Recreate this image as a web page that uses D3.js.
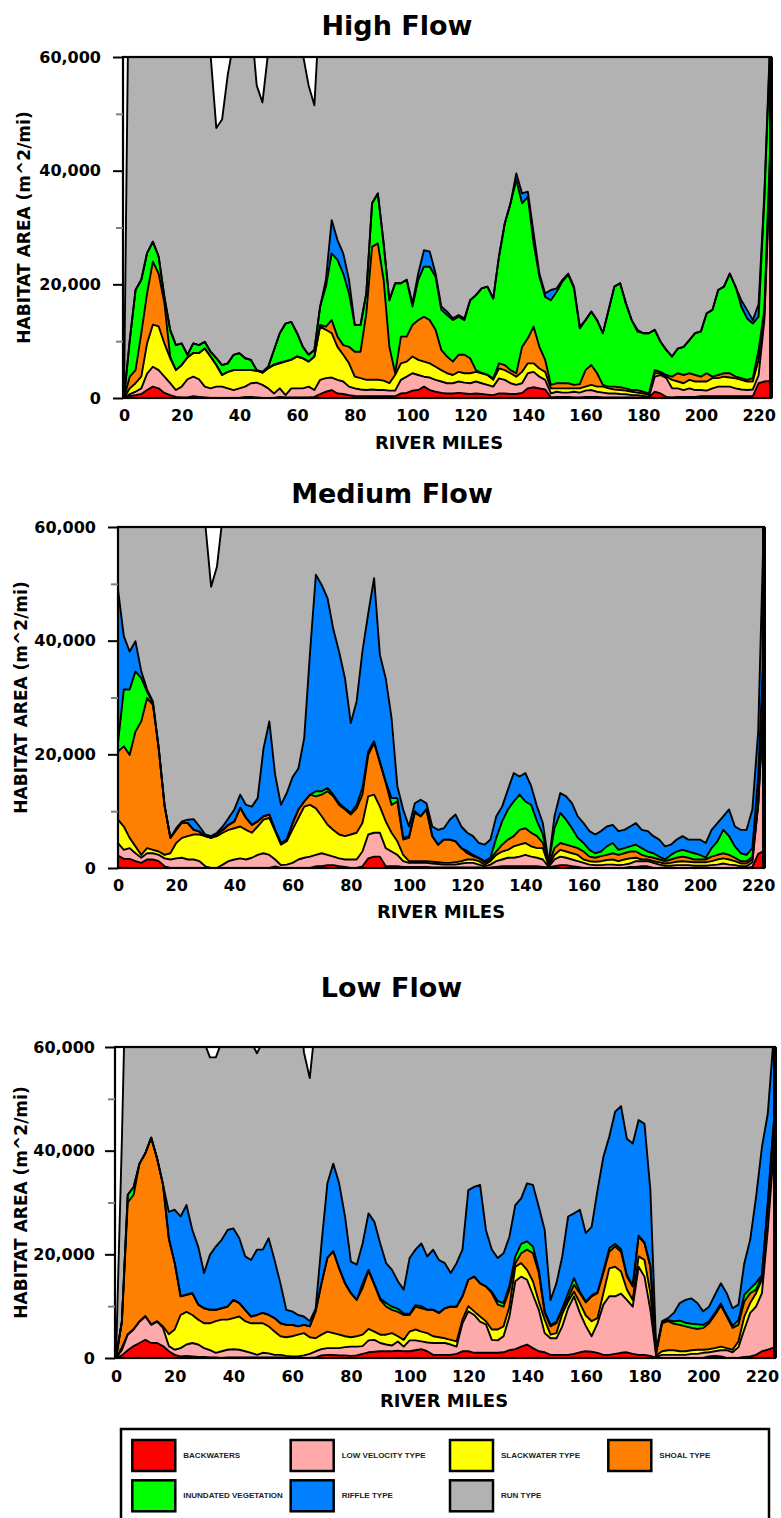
<!DOCTYPE html>
<html><head><meta charset="utf-8">
<script src="https://cdn.jsdelivr.net/npm/d3@7"></script>
<style>body{margin:0;background:#fff;} svg{display:block;}</style>
</head><body><svg id="chart" width="781" height="1518"></svg>
<script>
// ---------------- DATA ----------------
const miles = [0,2,4,6,8,10,12,14,16,18, 20,22,24,26,28,30,32,34,36,38, 40,42,44,46,48,50,52,54,56,58,
 60,62,64,66,68,70,72,74,76,78, 80,82,84,86,88,90,92,94,96,98, 100,102,104,106,108,110,112,114,116,118,
 120,122,124,126,128,130,132,134,136,138, 140,142,144,146,148,150,152,154,156,158, 160,162,164,166,168,170,172,174,176,178,
 180,182,184,186,188,190,192,194,196,198, 200,202,204,206,208,210,212,214,216,218, 220,222,224];

const seriesNames = ["BACKWATERS","LOW VELOCITY TYPE","SLACKWATER TYPE","SHOAL TYPE","INUNDATED VEGETATION","RIFFLE TYPE","RUN TYPE"];
const seriesColors = ["#FF0000","#FFAAAA","#FFFF00","#FF8000","#00FF00","#0080FF","#B2B2B2"];
const yTicks = [0,20000,40000,60000];
const yMinorTicks = [10000,30000,50000];
const xTicks = [0,20,40,60,80,100,120,140,160,180,200,220];

// High flow
const highBackwaters = [0,350,500,700,1400,2000,1700,900,500,200, 100,100,300,200,100,0,0,0,0,0, 0,200,200,100,0,0,0,200,100,100,
 100,100,100,200,700,1100,1400,800,700,500, 350,300,300,300,300,300,300,300,800,900, 1300,1400,2000,1400,1100,900,800,800,900,800,
 700,800,700,600,500,800,800,700,700,900, 1700,1900,1700,1500,100,200,200,200,100,100, 200,200,200,100,100,100,100,100,100,100,
 100,100,1100,800,200,100,200,200,200,200, 300,300,300,300,300,300,300,300,300,300, 2600,2900,3000];
const highLowVelocity = [0,350,600,1000,2900,3500,3200,2850,2100,1200, 1900,3200,3450,3100,1900,1700,2000,2000,1700,1400, 1700,1800,2400,2600,2300,1700,800,1500,400,1600,
 1600,1600,1900,1200,2500,2400,2200,2400,2200,1500, 1350,1200,1100,1200,1100,1100,1000,1000,2400,2850, 3050,2650,1750,2200,2100,2000,1800,1800,2000,1900,
 1900,2100,1900,1700,1500,2650,2400,1900,1600,1700, 2650,2700,2050,1700,700,900,750,750,1000,850, 1100,1200,900,850,700,700,600,550,400,400,
 250,100,2650,3250,3300,1600,1500,1200,1500,1200, 1100,1000,1400,1700,1700,1700,1400,1200,1100,1200, 1400,10800,37000];
const highSlackwater = [0,1000,1500,2050,5300,7400,7700,5850,4400,3500, 3800,3850,4150,4600,6700,5600,3800,2050,2900,3500, 3200,2900,2300,2100,2150,3500,5000,4400,5900,5000,
 5600,5300,4400,5900,9350,8500,7800,5800,4700,4100, 2050,2000,1800,1700,1800,1650,1300,2750,2900,2650, 2950,2650,2650,2500,2300,2000,1750,1450,1700,1650,
 1750,1700,1750,1750,1200,1750,1700,1750,1450,2000, 1750,1500,1450,1400,900,600,750,750,600,750, 700,900,900,1050,900,700,700,650,600,450,
 450,300,600,300,250,1500,1200,1200,1500,1500, 1500,1600,1800,1500,1750,1600,1750,1700,1500,1400, 2700,800,2000];
const highShoal = [0,2050,2300,7650,8800,11100,9300,7100,300,0, 0,0,0,0,0,0,0,0,0,0, 0,0,0,0,0,100,100,100,100,100,
 0,0,0,0,300,550,2300,1800,1700,2900, 4400,4650,11700,23400,24000,17750,6400,300,4700,4400, 5550,7000,7900,7600,6500,3550,2950,2350,3000,3250,
 2650,300,50,50,250,900,900,550,600,4400, 4400,6450,3800,2100,600,900,900,900,600,750, 2900,3500,2350,300,300,500,500,400,300,450,
 300,300,550,250,300,550,1450,1450,1150,1150, 850,1450,250,550,600,750,300,300,300,600, 1750,1000,2000];
const highInundated = [0,6450,14100,9400,7100,3500,3000,1100,4700,4400, 3800,450,1700,1400,1200,850,1200,1750,1500,2700, 3000,2100,1800,100,150,200,2550,5200,6600,6600,
 4100,2000,1200,1150,3250,7050,11750,13500,12600,9400, 4700,4700,3500,7650,8800,6400,8200,15850,9400,10000, 3250,7100,8800,9400,9350,7050,7300,7300,6700,6100,
 10200,13200,14900,15500,14050,18800,24900,29350,34000,25250, 24900,14650,12350,11100,14900,16100,17900,19050,17000,9800, 8800,9400,9350,9100,13500,17600,18300,14950,12300,10300,
 10300,10600,7100,5300,4400,3550,4350,4950,5850,7350, 7950,10550,11750,14950,15250,17550,15850,12600,10800,9600, 5850,19500,18000];
const highRiffle = [0,0,0,0,0,0,0,0,0,0, 0,0,0,0,0,0,0,0,0,0, 0,0,0,0,0,0,0,0,0,0,
 0,0,0,0,0,1200,5850,3500,3550,2400, 0,0,0,0,0,0,0,0,0,0, 550,1100,2900,2650,550,600,600,300,300,300,
 0,0,0,0,0,0,0,0,1150,1750, 900,1800,550,600,1800,600,300,250,300,300, 0,0,0,0,0,0,0,0,0,300,
 0,0,0,0,0,0,0,0,0,0, 0,0,0,0,0,0,0,1100,1500,600, 2200,1000,1000];
const highRun = [0,80000,55000,55000,50000,50000,50000,55000,60000,60000, 60000,60000,60000,60000,55000,52300,40500,43200,50900,55000, 60000,60000,60000,50100,47400,55500,60000,55000,55000,55000,
 55000,51500,47400,43050,53900,45000,35000,40000,40000,45000, 50000,50000,45000,35000,35000,40000,45000,45000,45000,45000, 50000,45000,40000,40000,45000,50000,50000,50000,50000,50000,
 50000,45000,45000,45000,45000,40000,35000,30000,30000,30000, 30000,35000,40000,45000,45000,45000,45000,45000,45000,50000, 50000,50000,50000,50000,50000,45000,45000,50000,50000,50000,
 50000,50000,50000,55000,55000,55000,55000,55000,55000,55000, 55000,50000,50000,45000,45000,45000,45000,45000,50000,50000, 45000,30000,30000];

// Medium flow
const medBackwaters = [2200,1600,1600,1200,900,1500,1500,1200,300,0, 0,0,0,0,0,0,0,0,0,0, 0,0,0,0,0,0,0,300,0,0,
 0,0,0,0,300,300,500,500,300,200, 0,0,300,1700,2000,2000,300,300,300,200, 200,200,200,200,100,100,100,100,100,100,
 100,100,100,50,100,200,300,300,300,300, 300,300,300,200,100,300,500,500,300,200, 0,0,0,0,0,0,0,0,200,200,
 300,300,0,0,0,0,0,0,0,0, 0,0,0,0,0,0,0,0,0,200, 2500,3000,3000];
const medLowVelocity = [2200,1600,1900,1400,900,1100,1100,1100,1400,1500, 1700,1800,1500,1500,1200,300,0,0,600,1200, 1500,1700,1500,1800,2300,2600,2300,1200,500,600,
 900,1500,1800,2000,2000,2300,1800,1500,1400,1300, 1500,1500,2600,4200,4200,4200,3200,2600,2000,1000, 700,700,700,700,700,600,500,500,500,700,
 800,800,500,250,500,1000,1200,1500,1500,1700, 2000,1700,1500,1300,100,1200,1500,1300,1200,1000, 900,600,500,500,600,600,500,600,600,1000,
 900,900,900,600,400,400,500,500,500,400, 400,400,500,600,800,600,500,300,300,800, 8500,27000,27000];
const medSlackwater = [4100,4100,1800,1200,500,900,600,600,600,1100, 2700,3500,4100,4400,4700,5300,5300,5600,5600,5500, 5500,5600,5200,4400,5000,5900,6500,5000,3600,4100,
 5900,7300,9000,9100,8200,6500,5300,4700,4200,4100, 4400,4700,5000,6700,6700,4600,4700,3300,2400,1100, 300,300,300,300,300,300,300,300,400,400,
 600,600,600,300,600,1100,1400,1400,2000,2100, 2100,1800,1700,2000,200,800,1200,1100,1100,1100, 600,600,600,700,800,900,700,900,900,600,
 300,300,300,400,400,500,600,700,600,600, 600,600,700,900,900,900,700,500,500,500, 200,1000,1000];
const medShoal = [12000,14100,14600,20200,23500,26400,25500,18100,8700,2700, 2300,2700,2300,800,500,0,0,400,500,900, 1200,3300,2100,1400,900,600,600,200,300,300,
 1100,1500,900,1800,2100,3800,5900,5900,5200,4700, 3500,4300,5000,7300,9100,7700,6800,4900,7000,2700, 4100,8500,7900,9100,4500,3100,4100,4100,3700,2300,
 1100,600,500,400,400,600,1200,1800,1800,2600, 2600,2400,2100,900,200,1200,1200,1200,1200,1200, 1400,800,700,900,900,1100,1100,1100,1200,1100,
 800,500,600,500,400,600,700,800,700,500, 500,500,800,800,900,800,600,400,400,500, 200,1000,1000];
const medInundated = [1500,10000,11500,10600,7600,1100,300,0,0,0, 0,0,0,0,0,0,0,0,0,0, 0,0,0,0,0,0,0,0,0,0,
 0,0,0,0,900,600,600,300,300,200, 300,600,1200,600,300,200,200,1200,600,300, 300,300,0,0,0,0,0,0,0,0,
 400,200,100,200,200,2400,4100,5300,6100,6200, 4700,4900,2600,1500,200,3500,5300,4400,3200,1800, 1500,1200,800,800,1500,1800,900,900,900,1200,
 1200,900,800,500,300,800,1100,1200,1100,1100, 800,300,1500,2400,4100,3300,2000,1400,1100,1500, 4600,8000,8000];
const medRiffle = [27000,9400,6700,5300,1200,400,300,0,0,0, 300,200,600,1900,900,300,300,200,600,1200, 2100,2300,2300,3200,4100,11900,16400,9700,6700,8200,
 8100,7200,11200,25100,38100,36300,33400,29100,26600,22900, 15800,18200,24000,24300,28700,18800,18200,14100,2100,5000, 1700,1400,2900,1100,1700,2600,2000,3500,4700,3800,
 3200,3300,2600,2900,3200,3800,2600,3500,5000,3200, 5000,3300,2600,2000,100,2100,3500,4100,4400,3800, 3500,3300,3300,3600,3500,3200,3300,3200,3500,3800,
 3200,3600,3000,3000,2300,1800,2100,2400,2100,2400, 2700,2600,3200,3200,2400,4700,3500,4100,4400,6800, 8000,22000,22000];
const medRun = [30000,40000,40000,40000,45000,45000,45000,50000,55000,60000, 60000,60000,60000,60000,60000,54600,43900,46800,54700,60000, 65000,65000,65000,65000,65000,55000,50000,60000,65000,65000,
 60000,60000,55000,40000,30000,30000,30000,35000,40000,45000, 50000,45000,40000,35000,30000,40000,45000,50000,60000,60000, 65000,60000,60000,60000,65000,65000,65000,65000,65000,65000,
 65000,65000,65000,65000,65000,60000,60000,55000,55000,55000, 55000,55000,60000,60000,70000,60000,55000,55000,60000,60000, 60000,65000,65000,65000,65000,65000,65000,65000,65000,65000,
 65000,65000,65000,65000,70000,70000,65000,65000,65000,65000, 65000,65000,65000,65000,60000,60000,65000,65000,65000,60000, 50000,30000,30000];

// Low flow
const lowBackwaters = [0,500,1500,2300,2900,3500,2900,2900,2300,1300, 600,300,400,300,200,200,100,100,0,100, 100,100,100,100,100,100,100,100,100,50,
 0,0,0,0,100,500,600,600,500,500, 400,500,800,1100,1200,1300,1300,1300,1400,1300, 1300,1500,1700,1300,600,600,600,600,800,1300,
 1300,1000,1000,1000,1000,1000,1100,1500,1700,2200, 2600,1900,1300,1100,600,600,600,600,800,1100, 1300,1200,1000,600,600,800,1000,1100,800,600,
 600,400,50,0,0,0,0,0,0,0, 0,300,400,300,0,0,0,200,300,600, 1300,1600,2000];
const lowLowVelocity = [0,1000,3000,3200,4100,4500,3500,4100,3500,1000, 1000,1600,2200,2600,2400,1700,1400,900,1300,1500, 1600,1500,1200,900,500,900,800,500,500,350,
 300,300,500,800,1200,1200,1300,1300,1400,1600, 1800,1700,1500,2300,2300,1600,1300,1100,1800,900, 2100,1900,1500,1700,2300,2300,2300,2000,1400,5400,
 7700,7300,6000,5500,2500,2400,3100,6500,13100,13500, 12500,10300,8000,3700,3200,3200,5500,9000,11100,7600, 4900,3000,5700,9700,11300,11100,11400,10100,9100,17000,
 15100,8900,150,600,600,600,600,600,800,800, 1000,800,900,1200,1500,1100,2100,5300,8400,9300, 11200,23100,38000];
const lowSlackwater = [0,500,100,100,100,100,100,100,300,2300, 3900,6400,6300,5400,4800,4800,5200,6100,6100,5800, 6000,6400,5800,5700,6100,5700,5200,4500,3600,3600,
 3900,4200,4300,3200,2500,2800,3200,2900,2600,2100, 1800,2000,2200,2200,1600,1600,1900,2400,1000,1300, 1700,2100,1900,1800,1300,1100,900,900,1000,700,
 1000,700,1000,600,2000,2100,1900,1900,2800,2600, 1900,2600,1600,2600,700,1000,2400,1300,900,1900, 2000,2900,1000,2200,5400,5700,4300,2000,1300,2000,
 3200,3200,300,700,900,900,700,700,700,800, 600,600,600,700,400,500,1100,2500,1900,2600, 2600,3900,4000];
const lowShoal = [0,5000,25400,25900,30400,31400,36000,31400,27400,18400, 12800,3600,3300,4200,2900,2900,2600,2200,2200,2500, 3500,2600,2200,1300,1600,2000,2200,2600,2500,2400,
 2200,1600,1600,2100,5200,9900,14200,15800,12800,10200, 8500,7000,9000,11200,9000,6700,5400,4500,4700,4800, 3200,4400,4500,4500,5100,4700,5800,6400,6700,4500,
 5100,6700,6400,6700,7000,4800,3800,3300,700,1900, 3900,5400,5500,1300,1600,1900,800,600,1300,1900, 2500,4800,4800,3900,3200,3900,3800,2500,2600,3800,
 3200,5100,500,5400,5600,5100,5100,4800,4300,4000, 4200,5000,6400,7900,6100,4200,3200,2900,1900,700, 600,1200,1000];
const lowInundated = [0,0,1500,1500,0,0,0,0,0,0, 0,0,0,0,0,0,0,0,0,0, 0,0,0,0,0,0,0,0,0,0,
 0,0,0,0,0,0,0,0,0,0, 0,0,900,200,200,300,700,600,600,300, 200,300,400,0,0,0,0,0,0,0,
 0,0,0,0,300,700,700,800,1300,1800, 1600,1300,600,300,300,300,300,1000,1300,300, 200,200,200,400,700,500,500,300,200,200,
 200,200,100,200,200,500,800,700,800,900, 600,400,400,400,300,400,900,1300,900,1300, 300,200,500];
const lowRiffle = [0,0,0,0,0,0,0,0,0,5200, 10300,15400,17300,12200,11200,6800,10600,12200,13200,14800, 13800,12500,10300,10900,12600,12200,14800,11200,7700,2900,
 2600,2200,1600,1000,500,7700,14400,16900,16400,12900, 6100,6800,7700,10900,12000,10600,7700,7100,5300,4600, 10800,10700,12100,10300,11600,10200,8700,6500,8400,9000,
 17300,17300,19000,10900,8100,8300,9600,9400,9900,8800, 11200,11900,12200,15700,4800,7400,10000,14800,12500,15800, 13200,13200,19700,22000,21500,25500,27600,26300,27400,22300,
 22900,14600,500,200,400,1600,3400,4400,4900,4100, 2600,2800,3500,3900,4200,3400,3000,6100,9400,16600, 24700,17200,16500];
const lowRun = [0,35000,60000,55000,50000,50000,45000,50000,55000,55000, 55000,55000,55000,55000,60000,44600,38100,36500,38200,55000, 55000,55000,55000,42100,37900,40100,55000,55000,60000,65000,
 65000,65000,51000,46900,55500,55000,45000,40000,45000,50000, 55000,55000,50000,45000,45000,50000,55000,55000,60000,60000, 55000,55000,50000,55000,55000,55000,55000,60000,55000,55000,
 45000,45000,45000,50000,55000,55000,55000,50000,45000,45000, 40000,40000,45000,50000,60000,60000,55000,45000,45000,45000, 50000,50000,45000,40000,35000,30000,30000,35000,35000,30000,
 30000,45000,70000,65000,65000,65000,60000,60000,60000,60000, 60000,60000,60000,55000,60000,60000,60000,55000,50000,45000, 40000,35000,30000];

// ---------------- LAYOUT ----------------
const panels = [
  {title:"High Flow", series:[highBackwaters,highLowVelocity,highSlackwater,highShoal,highInundated,highRiffle,highRun],
   left:123,right:771,top:57,bottom:398,xDomain:[-0.35,224.3],titleX:397,titleY:35,xLabelX:439,xLabelY:448.5,yTitleX:29.5,yPad:12,xPad:12},
  {title:"Medium Flow", series:[medBackwaters,medLowVelocity,medSlackwater,medShoal,medInundated,medRiffle,medRun],
   left:118,right:764,top:527,bottom:868,xDomain:[0,222],titleX:392,titleY:503,xLabelX:441,xLabelY:918,yTitleX:26.5,yPad:12,xPad:12},
  {title:"Low Flow", series:[lowBackwaters,lowLowVelocity,lowSlackwater,lowShoal,lowInundated,lowRiffle,lowRun],
   left:115,right:775,top:1047,bottom:1358,xDomain:[-0.34,224.45],titleX:391.5,titleY:997,xLabelX:444,xLabelY:1406.5,yTitleX:26.5,yPad:10,xPad:13}
];

const svg = d3.select("#chart");
const FONT = "'DejaVu Sans', Verdana, sans-serif";

panels.forEach((p, pi) => {
  const rows = miles.map((m, i) => {
    const o = {mile: m};
    seriesNames.forEach((k, j) => { o[k] = p.series[j][i]; });
    return o;
  });
  const stacked = d3.stack().keys(seriesNames)(rows);
  const x = d3.scaleLinear().domain(p.xDomain).range([p.left, p.right]);
  const y = d3.scaleLinear().domain([0, 60000]).range([p.bottom, p.top]);

  const clipId = "clip" + pi;
  svg.append("clipPath").attr("id", clipId).append("rect")
    .attr("x", p.left).attr("y", p.top).attr("width", p.right - p.left).attr("height", p.bottom - p.top);

  const g = svg.append("g").attr("clip-path", `url(#${clipId})`);
  const area = d3.area().x(d => x(d.data.mile)).y0(d => y(d[0])).y1(d => y(d[1]));
  const line = d3.line().x(d => x(d.data.mile)).y(d => y(d[1]));

  g.selectAll("path.layer").data(stacked).join("path")
    .attr("class", "layer").attr("d", area)
    .attr("fill", (d, i) => seriesColors[i]);
  g.selectAll("path.edge").data(stacked).join("path")
    .attr("class", "edge").attr("d", line)
    .attr("fill", "none").attr("stroke", "#000").attr("stroke-width", 1.9)
    .attr("stroke-linejoin", "round");

  // frame
  svg.append("rect").attr("x", p.left).attr("y", p.top)
    .attr("width", p.right - p.left).attr("height", p.bottom - p.top)
    .attr("fill", "none").attr("stroke", "#000").attr("stroke-width", 2.2);
  svg.append("line").attr("x1", p.right).attr("x2", p.right).attr("y1", p.top).attr("y2", p.bottom)
    .attr("stroke", "#000").attr("stroke-width", 4);

  // y axis (major)
  const yAxis = svg.append("g").attr("transform", `translate(${p.left},0)`)
    .call(d3.axisLeft(y).tickValues(yTicks).tickFormat(d3.format(",")).tickSize(10).tickPadding(p.yPad));
  yAxis.select(".domain").remove();
  yAxis.selectAll(".tick line").attr("stroke", "#000").attr("stroke-width", 2);
  yAxis.selectAll(".tick text").attr("font-family", FONT).attr("font-weight", "bold")
    .attr("font-size", 16).attr("fill", "#000");
  // minor
  const yMinor = svg.append("g").attr("transform", `translate(${p.left},0)`)
    .call(d3.axisLeft(y).tickValues(yMinorTicks).tickFormat("").tickSize(7));
  yMinor.select(".domain").remove();
  yMinor.selectAll(".tick line").attr("stroke", "#808080").attr("stroke-width", 2);

  // x axis
  const xAxis = svg.append("g").attr("transform", `translate(0,${p.bottom})`)
    .call(d3.axisBottom(x).tickValues(xTicks).tickSize(0).tickPadding(p.xPad));
  xAxis.select(".domain").remove();
  xAxis.selectAll(".tick text").attr("font-family", FONT).attr("font-weight", "bold")
    .attr("font-size", 16).attr("fill", "#000");

  // titles
  svg.append("text").attr("x", p.titleX).attr("y", p.titleY).attr("text-anchor", "middle")
    .attr("font-family", FONT).attr("font-weight", "bold").attr("font-size", 27).text(p.title);
  svg.append("text").attr("x", p.xLabelX).attr("y", p.xLabelY).attr("text-anchor", "middle")
    .attr("font-family", FONT).attr("font-weight", "bold").attr("font-size", 18).text("RIVER MILES");
  svg.append("text").attr("transform", `translate(${p.yTitleX},${(p.top + p.bottom) / 2}) rotate(-90)`)
    .attr("text-anchor", "middle").attr("font-family", FONT).attr("font-weight", "bold")
    .attr("font-size", 17).text("HABITAT AREA (m^2/mi)");
});

// ---------------- LEGEND ----------------
const legendOrder = [
  {i:0, col:0, row:0}, {i:1, col:1, row:0}, {i:2, col:2, row:0}, {i:3, col:3, row:0},
  {i:4, col:0, row:1}, {i:5, col:1, row:1}, {i:6, col:2, row:1}
];
const colX = [132.3, 290.7, 450, 608.3];
const rowY = [1440, 1480.3];
svg.append("rect").attr("x", 121).attr("y", 1429).attr("width", 648).attr("height", 110)
  .attr("fill", "none").attr("stroke", "#000").attr("stroke-width", 2.5);
const lg = svg.append("g");
legendOrder.forEach(d => {
  lg.append("rect").attr("x", colX[d.col]).attr("y", rowY[d.row]).attr("width", 43).attr("height", 31)
    .attr("fill", seriesColors[d.i]).attr("stroke", "#000").attr("stroke-width", 2.5);
  lg.append("text").attr("x", colX[d.col] + 51).attr("y", rowY[d.row] + 17.5)
    .attr("font-family", "'Liberation Sans', Arial, sans-serif").attr("font-weight", "bold")
    .attr("font-size", 8).attr("fill", "#222").text(seriesNames[d.i]);
});
</script>
</body></html>
